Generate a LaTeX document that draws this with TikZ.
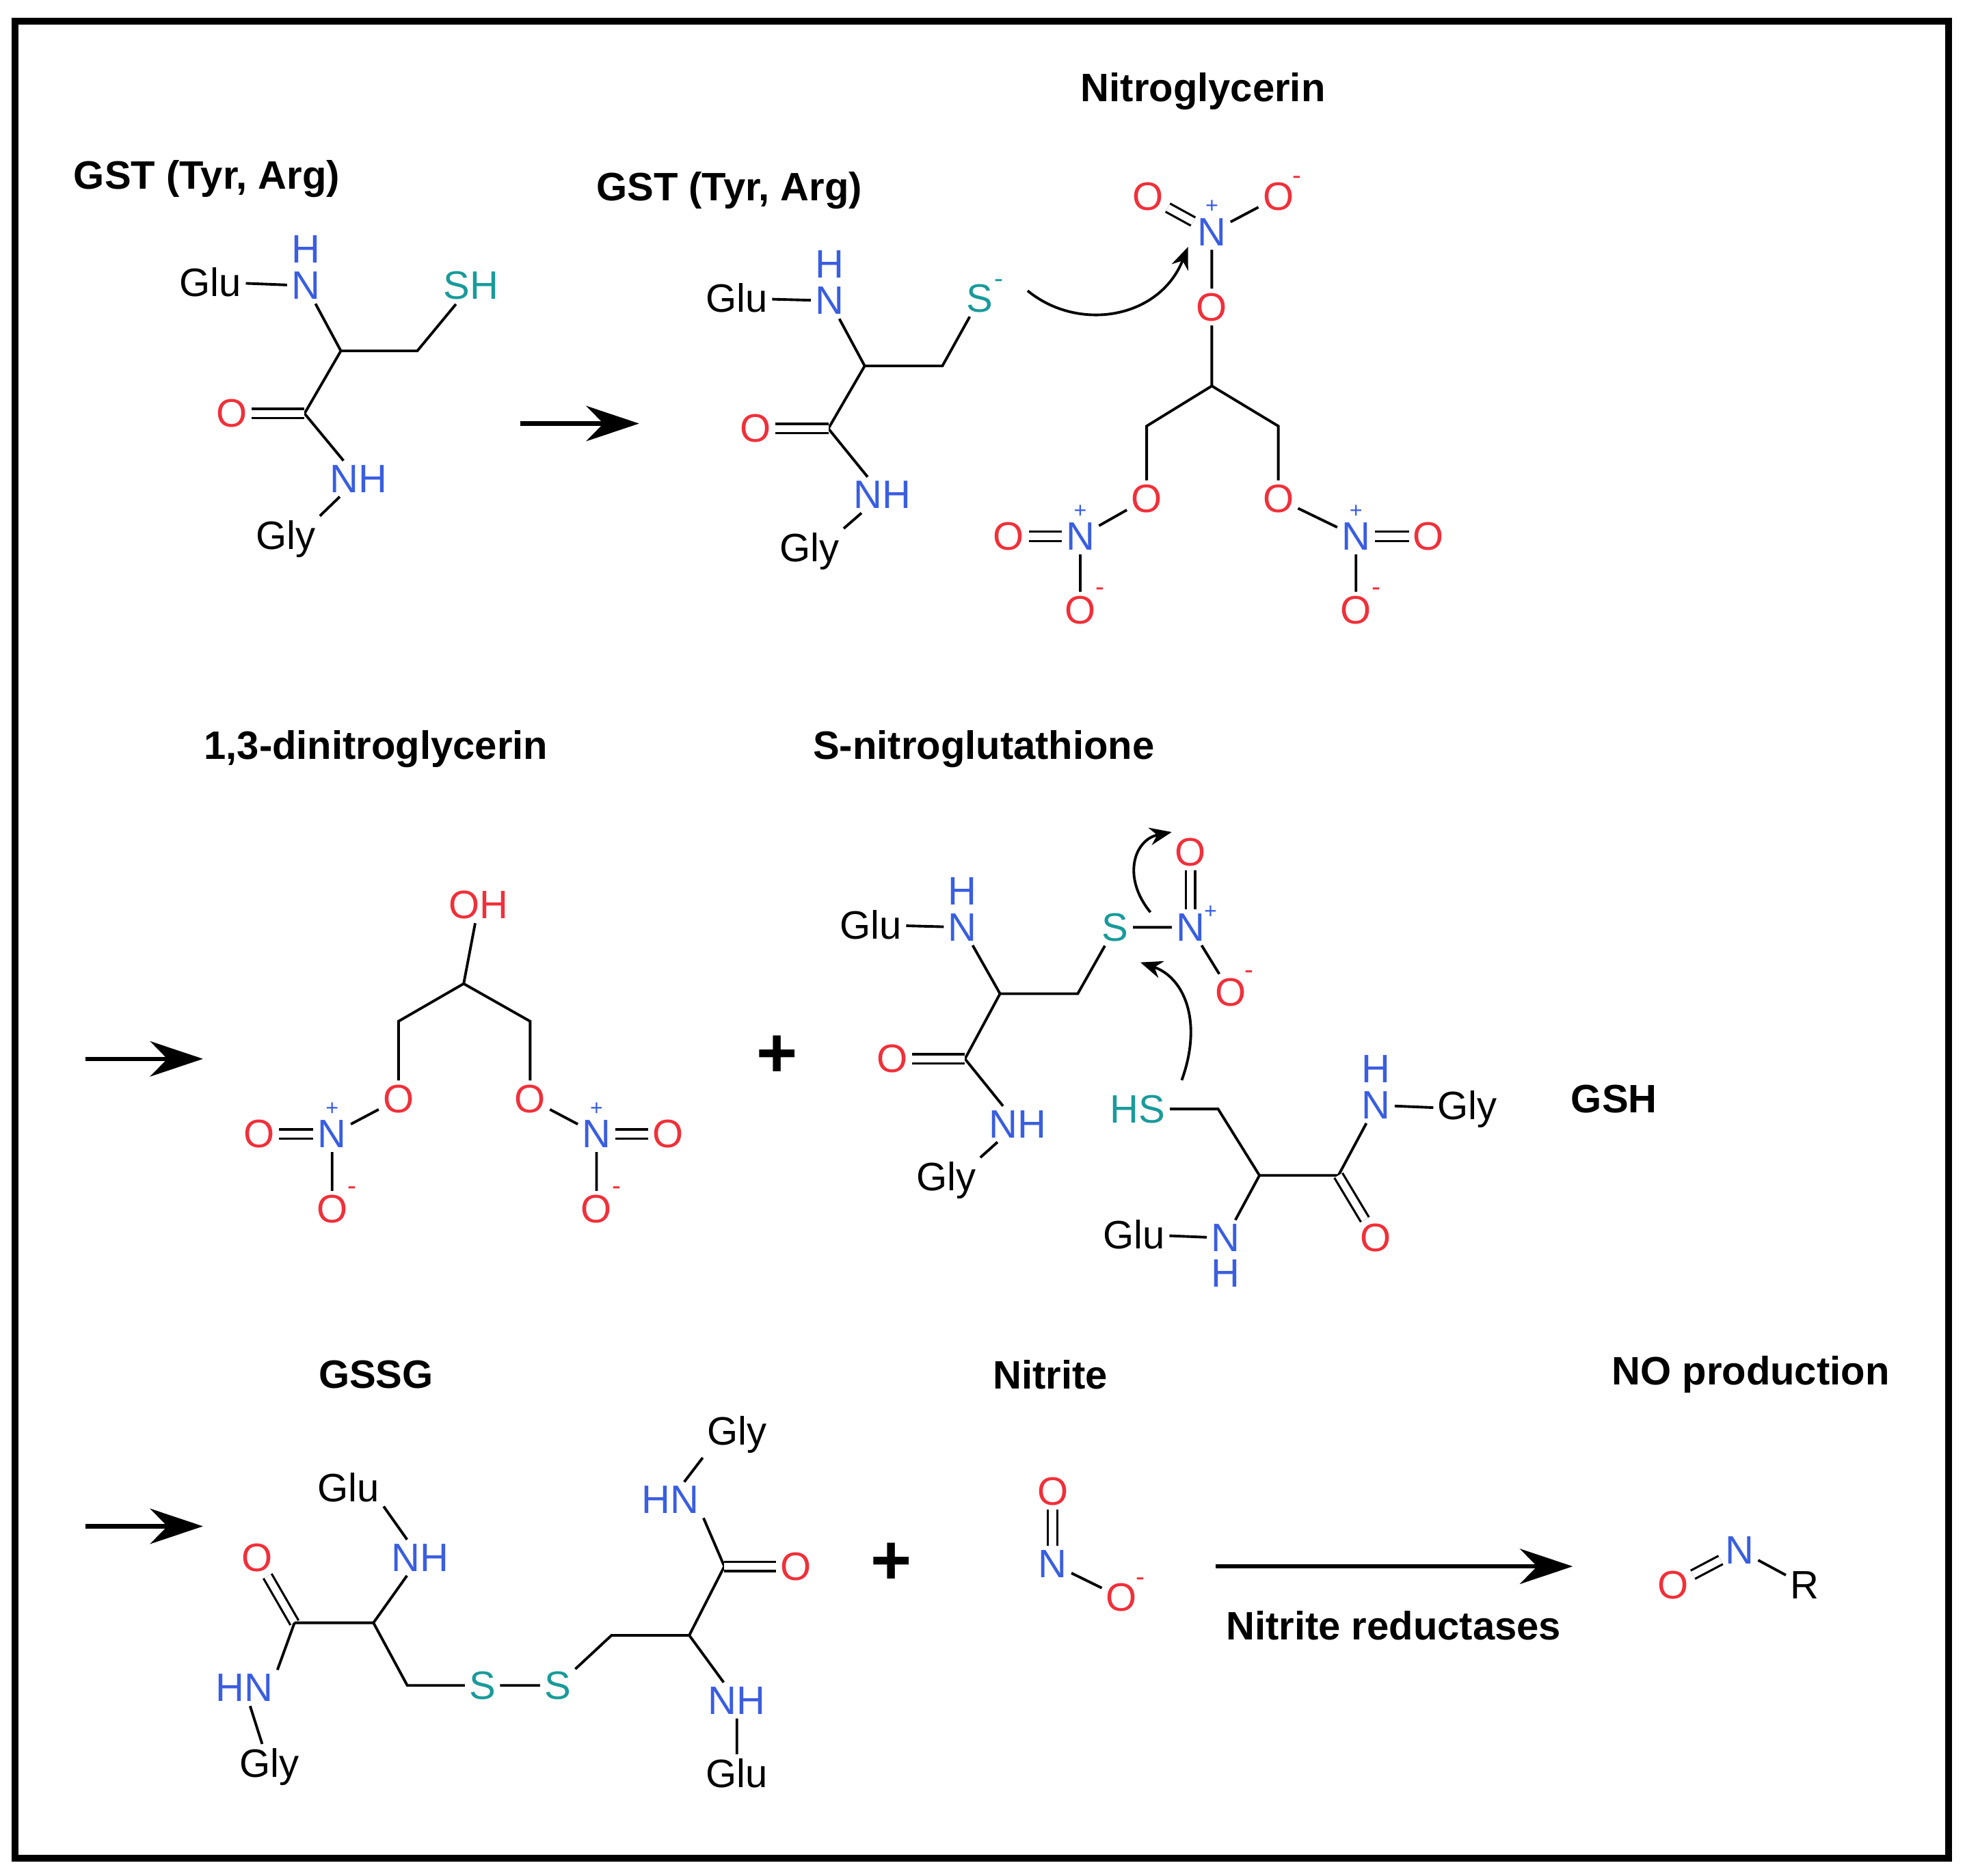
\documentclass[tikz,border=0pt]{standalone}
\usepackage{fontspec}
\setmainfont{Liberation Sans}
\usetikzlibrary{arrows.meta}
\definecolor{ored}{HTML}{F0303A}
\definecolor{nblue}{HTML}{3A5EE0}
\definecolor{steal}{HTML}{1A9A9A}
\tikzset{
 a/.style={font=\fontsize{9}{10}\selectfont, inner sep=0.8pt},
 o/.style={a,text=ored}, n/.style={a,text=nblue}, s/.style={a,text=steal},
 ttl/.style={font=\bfseries\fontsize{9}{11}\selectfont, inner sep=0pt},
 bd/.style={line width=0.6pt},
 db/.style={line width=0.5pt, double, double distance=1.6pt},
 chp/.style={font=\fontsize{5}{5}\selectfont, text=nblue, inner sep=0pt},
 chm/.style={font=\fontsize{6}{6}\selectfont, text=ored, inner sep=0pt},
 chs/.style={font=\fontsize{6}{6}\selectfont, text=steal, inner sep=0pt},
 rx/.style={line width=1pt, -{Stealth[length=12pt,width=8pt]}},
 cu/.style={line width=0.6pt, -{Stealth[length=5pt,width=4pt]}},
}
\begin{document}
\begin{tikzpicture}[x=0.01cm,y=-0.01cm]
\useasboundingbox (0,0) rectangle (1568,1497);
\draw[line width=1.5pt] (12,17) rectangle (1555,1483);
% ---- molecule 1
\node[ttl] (t1) at (165,143) {GST (Tyr, Arg)};
\node[a] (g1) at (168,225) {Glu};
\node[n] (n1) at (244,228) {N}; \node[n] (h1) at (244,199) {H};
\coordinate (ca1) at (272,280); \coordinate (cb1) at (333,280);
\node[s] (s1) at (376,228) {SH};
\coordinate (c1) at (243,330); \node[o] (o1) at (185,330) {O};
\node[n] (nh1) at (286,382) {NH}; \node[a] (gl1) at (228,430) {Gly};
\draw[bd] (g1)--(n1); \draw[bd] (n1)--(ca1)--(cb1)--(s1); \draw[bd] (ca1)--(c1)--(nh1)--(gl1.north east);
\draw[db] (c1)--(o1);
\coordinate (ar1a) at (415,338); \coordinate (ar1b) at (510,338);
\draw[rx] (ar1a)--(ar1b);
% ---- molecule 2
\node[ttl] (t2) at (582,152) {GST (Tyr, Arg)};
\node[a] (g2) at (588,238) {Glu};
\node[n] (n2) at (662,240) {N}; \node[n] (h2) at (662,211) {H};
\coordinate (ca2) at (690,292); \coordinate (cb2) at (752,292);
\node[s] (s2) at (782,238) {S}; \node[chs] at (797,226) {-};
\coordinate (c2) at (661,342); \node[o] (o2) at (603,342) {O};
\node[n] (nh2) at (704,395) {NH}; \node[a] (gl2) at (646,440) {Gly};
\draw[bd] (g2)--(n2); \draw[bd] (n2)--(ca2)--(cb2)--(s2); \draw[bd] (ca2)--(c2)--(nh2)--(gl2.north east);
\draw[db] (c2)--(o2);
% nitroglycerin
\node[ttl] (t3) at (960,73) {Nitroglycerin};
\node[n] (na) at (967,185) {N}; \node[chp] at (967,165) {+};
\node[o] (oa1) at (916,157) {O}; \node[o] (oa2) at (1020,157) {O}; \node[chm] at (1035,144) {-};
\node[o] (ob) at (967,245) {O};
\coordinate (cc) at (967,308); \coordinate (cl) at (915,340); \coordinate (cr) at (1020,340);
\node[o] (ol) at (915,398) {O}; \node[n] (nl) at (862,428) {N}; \node[chp] at (862,408) {+};
\node[o] (ol1) at (805,428) {O}; \node[o] (ol2) at (862,487) {O}; \node[chm] at (878,472) {-};
\node[o] (or) at (1020,398) {O}; \node[n] (nr) at (1082,428) {N}; \node[chp] at (1082,408) {+};
\node[o] (or1) at (1140,428) {O}; \node[o] (or2) at (1082,487) {O}; \node[chm] at (1098,472) {-};
\draw[db] (na)--(oa1); \draw[bd] (na)--(oa2); \draw[bd] (na)--(ob)--(cc)--(cl)--(ol)--(nl)--(ol2);
\draw[bd] (cc)--(cr)--(or)--(nr)--(or2); \draw[db] (nl)--(ol1); \draw[db] (nr)--(or1);
\coordinate (cu1a) at (820,232); \coordinate (cu1b) at (948,197);
\draw[cu] (cu1a) .. controls (860,265) and (925,255) .. (cu1b);
% ---- row 2
\coordinate (ar2a) at (68,845); \coordinate (ar2b) at (162,845);
\draw[rx] (ar2a)--(ar2b);
\node[ttl] (t4) at (300,598) {1,3-dinitroglycerin};
\node[o] (oh) at (382,722) {OH};
\coordinate (dc) at (370,785); \coordinate (dl) at (318,815); \coordinate (dr) at (423,815);
\node[o] (dol) at (318,877) {O}; \node[n] (dnl) at (265,905) {N}; \node[chp] at (265,885) {+};
\node[o] (dol1) at (207,905) {O}; \node[o] (dol2) at (265,965) {O}; \node[chm] at (281,950) {-};
\node[o] (dor) at (423,877) {O}; \node[n] (dnr) at (476,905) {N}; \node[chp] at (476,885) {+};
\node[o] (dor1) at (533,905) {O}; \node[o] (dor2) at (476,965) {O}; \node[chm] at (492,950) {-};
\draw[bd] (oh)--(dc)--(dl)--(dol)--(dnl)--(dol2); \draw[bd] (dc)--(dr)--(dor)--(dnr)--(dor2);
\draw[db] (dnl)--(dol1); \draw[db] (dnr)--(dor1);
\node[font=\bfseries\fontsize{16}{16}\selectfont] (p1) at (620,843) {+};
% S-nitroglutathione
\node[ttl] (t5) at (785,598) {S-nitroglutathione};
\node[a] (g3) at (695,738) {Glu};
\node[n] (n3) at (768,740) {N}; \node[n] (h3) at (768,711) {H};
\coordinate (ca3) at (798,793); \coordinate (cb3) at (860,793);
\node[s] (s3) at (890,740) {S};
\node[n] (nn3) at (950,740) {N}; \node[chp] at (966,728) {+};
\node[o] (on1) at (950,680) {O}; \node[o] (on2) at (982,792) {O}; \node[chm] at (997,778) {-};
\coordinate (c3) at (770,845); \node[o] (o3) at (712,845) {O};
\node[n] (nh3) at (812,897) {NH}; \node[a] (gl3) at (755,942) {Gly};
\draw[bd] (g3)--(n3); \draw[bd] (n3)--(ca3)--(cb3)--(s3)--(nn3)--(on2); \draw[db] (nn3)--(on1);
\draw[bd] (ca3)--(c3)--(nh3)--(gl3.north east); \draw[db] (c3)--(o3);
\coordinate (cu2a) at (918,728); \coordinate (cu2b) at (935,664);
\draw[cu] (cu2a) .. controls (895,700) and (905,670) .. (cu2b);
\coordinate (cu3a) at (943,862); \coordinate (cu3b) at (910,768);
\draw[cu] (cu3a) .. controls (960,815) and (945,780) .. (cu3b);
% GSH
\node[s] (hs) at (908,885) {HS};
\coordinate (gb) at (972,885); \coordinate (ga) at (1005,938); \coordinate (gc) at (1068,938);
\node[o] (go) at (1098,988) {O};
\node[n] (gn) at (1098,882) {N}; \node[n] (gh) at (1098,853) {H}; \node[a] (ggly) at (1171,885) {Gly};
\node[n] (gn2) at (978,988) {N}; \node[n] (gh2) at (978,1016) {H}; \node[a] (gglu) at (905,985) {Glu};
\draw[bd] (hs)--(gb)--(ga)--(gc)--(gn); \draw[bd] (gn)--(ggly); \draw[db] (gc)--(go);
\draw[bd] (ga)--(gn2)--(gglu);
\node[ttl] (t6) at (1288,877) {GSH};
% ---- row 3
\coordinate (ar3a) at (68,1218); \coordinate (ar3b) at (162,1218);
\draw[rx] (ar3a)--(ar3b);
\node[ttl] (t7) at (300,1097) {GSSG};
\node[o] (qo) at (205,1243) {O}; \coordinate (qc) at (235,1295);
\node[n] (qhn) at (195,1347) {HN}; \node[a] (qgly) at (215,1410) {Gly};
\coordinate (qa) at (298,1295); \node[n] (qnh) at (335,1243) {NH}; \node[a] (qglu) at (278,1187) {Glu};
\coordinate (qb) at (325,1345);
\node[s] (qs1) at (385,1345) {S}; \node[s] (qs2) at (445,1345) {S};
\coordinate (rb) at (488,1305); \coordinate (ra) at (550,1305);
\node[n] (rnh) at (588,1357) {NH}; \node[a] (rglu) at (588,1415) {Glu};
\coordinate (rc) at (578,1250); \node[o] (ro) at (635,1250) {O};
\node[n] (rhn) at (535,1197) {HN}; \node[a] (rgly) at (588,1145) {Gly};
\draw[db] (qc)--(qo); \draw[bd] (qc)--(qhn.north east); \draw[bd] (qhn)--(qgly);
\draw[bd] (qc)--(qa)--(qnh)--(qglu.south east); \draw[bd] (qa)--(qb)--(qs1)--(qs2)--(rb)--(ra)--(rnh)--(rglu);
\draw[bd] (ra)--(rc)--(rhn.south east); \draw[bd] (rhn)--(rgly.south west); \draw[db] (rc)--(ro);
\node[font=\bfseries\fontsize{16}{16}\selectfont] (p2) at (711,1248) {+};
\node[ttl] (t8) at (838,1097) {Nitrite};
\node[o] (to1) at (840,1190) {O}; \node[n] (tn) at (840,1248) {N};
\node[o] (to2) at (895,1275) {O}; \node[chm] at (910,1262) {-};
\draw[db] (tn)--(to1); \draw[bd] (tn)--(to2);
\coordinate (ar4a) at (970,1250); \coordinate (ar4b) at (1255,1250);
\draw[rx] (ar4a)--(ar4b);
\node[ttl] (t9) at (1112,1297) {Nitrite reductases};
\node[ttl] (t10) at (1397,1097) {NO production};
\node[o] (uo) at (1335,1265) {O}; \node[n] (un) at (1388,1237) {N}; \node[a] (ur) at (1440,1265) {R};
\draw[db] (uo)--(un); \draw[bd] (un)--(ur);
\end{tikzpicture}
\end{document}
